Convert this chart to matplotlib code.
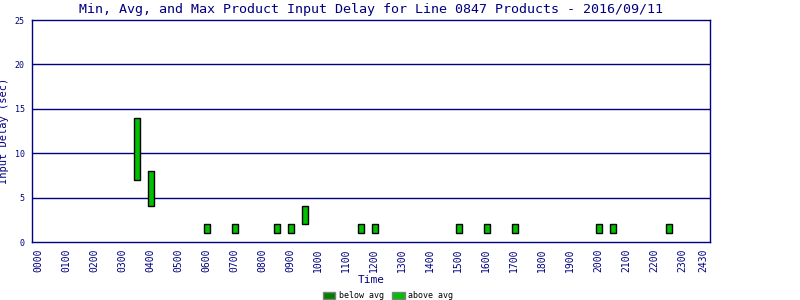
import matplotlib
matplotlib.use("Agg")
import matplotlib.pyplot as plt
from matplotlib.patches import Patch

# Data
times = [3.5, 4.0, 6.0, 7.0, 8.5, 9.0, 9.5, 11.5, 12.0, 15.0, 16.0, 17.0, 20.0, 20.5, 22.5]
mins  = [7,   4,   1,   1,   1,   1,   2,   1,    1,    1,    1,    1,    1,    1,    1]
maxs  = [14,  8,   2,   2,   2,   2,   4,   2,    2,    2,    2,    2,    2,    2,    2]
tick_pos = list(range(0, 24)) + [23.75]
tick_labels = ["%02d00" % h for h in range(24)] + ["2430"]
yticks = [0, 5, 10, 15, 20, 25]

navy = "#000080"
above = "#00C000"
below = "#008000"

plt.rcParams['font.family'] = ['DejaVu Sans Mono']

fig = plt.figure(figsize=(8, 3), dpi=100)
ax = fig.add_axes([0.0395, 0.1933, 0.848, 0.74])

heights = [mx - mn for mn, mx in zip(mins, maxs)]
ax.bar([t + 0.04 for t in times], heights, bottom=mins, width=0.19,
       color=above, edgecolor="black", linewidth=1.0, zorder=3)

ax.set_xlim(-0.23, 24.0)
ax.set_ylim(0, 25)
ax.set_yticks(yticks)
ax.set_yticklabels([str(v) for v in yticks], fontsize=6, color=navy)
ax.set_xticks(tick_pos)
ax.set_xticklabels(tick_labels, rotation=90, fontsize=7, color=navy)
ax.tick_params(length=0, pad=5)
for y in yticks[1:-1]:
    ax.axhline(y, color=navy, linewidth=1.0, zorder=1)
for s in ax.spines.values():
    s.set_color(navy)
    s.set_linewidth(1.0)

ax.set_title("Min, Avg, and Max Product Input Delay for Line 0847 Products - 2016/09/11",
             fontsize=9.6, color=navy, pad=5)
ax.set_xlabel("Time", fontsize=8, color=navy, labelpad=2)
ax.set_ylabel("Input Delay (sec)", fontsize=7.5, color=navy, labelpad=4)

handles = [Patch(facecolor=below, edgecolor="gray", label="below avg"),
           Patch(facecolor=above, edgecolor="gray", label="above avg")]
fig.legend(handles=handles, loc="lower center", bbox_to_anchor=(0.485, -0.025), ncol=2,
           frameon=False, fontsize=6, handlelength=1.5, handleheight=0.9,
           columnspacing=1.0, handletextpad=0.4)

fig.savefig("out.png", dpi=100)
